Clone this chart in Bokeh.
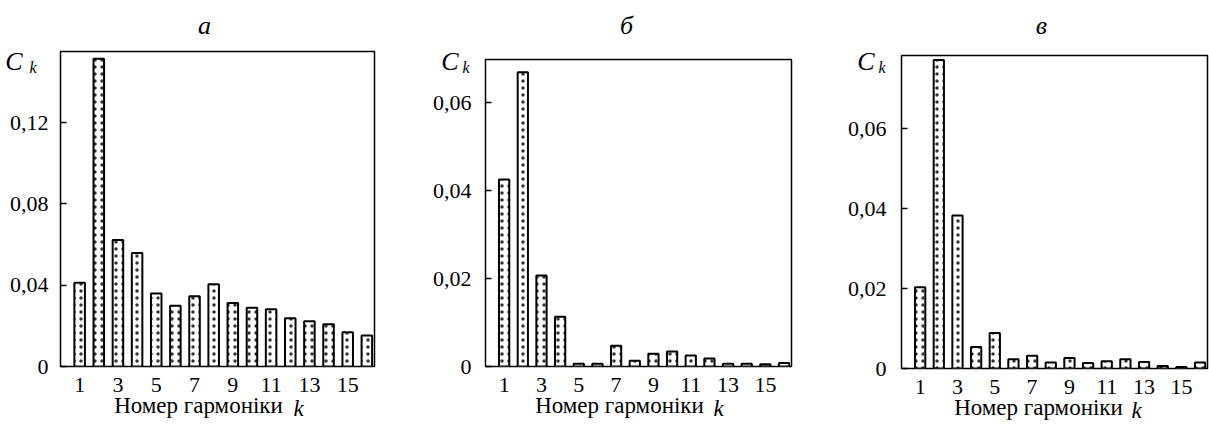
from bokeh.plotting import figure
from bokeh.layouts import row
from bokeh.models import FixedTicker, CustomJSTickFormatter, Range1d, LinearAxis
from bokeh.embed import file_html
from bokeh.resources import INLINE

harmonics = list(range(1, 17))
x_ticks = [1, 3, 5, 7, 9, 11, 13, 15]

ck_a = [0.0412, 0.1514, 0.0623, 0.0559, 0.0359, 0.0299, 0.0346, 0.0405,
        0.0313, 0.0289, 0.0282, 0.0238, 0.0223, 0.0208, 0.0169, 0.0153]
ck_b = [0.0426, 0.0670, 0.0207, 0.0113, 0.0006, 0.0006, 0.0047, 0.0013,
        0.0029, 0.0034, 0.0025, 0.0018, 0.0006, 0.0006, 0.0005, 0.0008]
ck_c = [0.0203, 0.0771, 0.0382, 0.0054, 0.0089, 0.0023, 0.0032, 0.0015,
        0.0026, 0.0014, 0.0018, 0.0023, 0.0016, 0.0006, 0.0004, 0.0015]

y_ticks_a = [0, 0.04, 0.08, 0.12]
y_ticks_b = [0, 0.02, 0.04, 0.06]
y_ticks_c = [0, 0.02, 0.04, 0.06]

panel_titles = ["а", "б", "в"]
x_label = "Номер гармоніки"
x_label_var = "k"
y_label = "C"
y_label_sub = "k"

FONT = "Liberation Serif"

# layout geometry (pixels): borders, stacking order of the left-side texts,
# and text anchor positions relative to the frame
panels = [
    dict(vals=ck_a, yt=y_ticks_a, ymax=0.155, width=400, bl=60, br=26, bt=51, bb=60,
         title_x=144, title_so=12, order=("k", "lab", "C"), pad=0,
         sk=24, k_y=299, slab=-22, sC=-16, C_y=305.5, xl_x=138, xk_x=238),
    dict(vals=ck_b, yt=y_ticks_b, ymax=0.0699, width=400, bl=85, br=9, bt=59, bb=60,
         title_x=141, title_so=20, order=("k", "C", "lab"), pad=2,
         sk=16, k_y=299, slab=-33, sC=1, C_y=305.5, xl_x=134, xk_x=233),
    dict(vals=ck_c, yt=y_ticks_c, ymax=0.0782, width=409, bl=101, br=2, bt=55, bb=58,
         title_x=140, title_so=16, order=("k", "C", "lab"), pad=2,
         sk=16, k_y=301, slab=-32, sC=1, C_y=307.5, xl_x=137, xk_x=235),
]


def num_fmt(pad):
    prefix = "\\u00a0" * pad
    return CustomJSTickFormatter(
        code="var s = tick == 0 ? '0' : tick.toFixed(2).replace('.', ',');"
             "return '%s' + s;" % prefix)


def const_fmt(s):
    return CustomJSTickFormatter(code="return %r;" % s)


def plain_axis(ax, standoff, size, style="normal"):
    ax.axis_line_color = None
    ax.major_tick_line_color = None
    ax.minor_tick_line_color = None
    ax.major_tick_in = 0
    ax.major_tick_out = 0
    ax.minor_tick_in = 0
    ax.minor_tick_out = 0
    ax.major_label_standoff = standoff
    ax.major_label_text_font = FONT
    ax.major_label_text_font_size = size
    ax.major_label_text_font_style = style
    ax.major_label_text_color = "black"


def text_axis(p, side, rng, pos, text, size, style, standoff):
    if side in ("left", "right"):
        ax = LinearAxis(y_range_name=rng)
    else:
        ax = LinearAxis(x_range_name=rng)
    ax.ticker = FixedTicker(ticks=[pos])
    ax.bounds = (pos - 0.5, pos + 0.5)
    ax.formatter = const_fmt(text)
    plain_axis(ax, standoff, size, style)
    p.add_layout(ax, side)
    return ax


figs = []
for i, g in enumerate(panels):
    fw = g["width"] - g["bl"] - g["br"]
    fh = 426 - g["bt"] - g["bb"]
    p = figure(width=g["width"], height=426, output_backend="svg", toolbar_location=None,
               title=None, x_range=Range1d(0, 16.4), y_range=Range1d(0, g["ymax"]),
               min_border_left=g["bl"], min_border_right=g["br"],
               min_border_top=g["bt"], min_border_bottom=g["bb"])
    if "frame_align" in p.properties():
        p.frame_align = False
    p.extra_x_ranges = {"px": Range1d(0, fw)}
    p.extra_y_ranges = {"py": Range1d(0, fh)}

    p.vbar(x=harmonics, top=g["vals"], width=0.55, bottom=0,
           fill_color="white", line_color="black", line_width=2,
           hatch_pattern="dot", hatch_scale=7, hatch_color="#333333", hatch_weight=1.4)
    p.xgrid.visible = False
    p.ygrid.visible = False
    p.outline_line_color = "black"
    p.outline_line_width = 1.5
    p.background_fill_color = "white"
    p.border_fill_color = "white"

    # main x axis: tick labels only
    p.xaxis.ticker = FixedTicker(ticks=x_ticks)
    plain_axis(p.xaxis[0], 11, "22px")

    # main y axis: tick marks only (labels drawn by another axis)
    p.yaxis.ticker = FixedTicker(ticks=g["yt"])
    p.yaxis.formatter = CustomJSTickFormatter(code="return '';")
    plain_axis(p.yaxis[0], 0, "22px")
    p.yaxis.major_tick_in = 6
    p.yaxis.major_tick_line_width = 1.5
    p.yaxis.major_tick_line_color = "black"

    # left stack of texts: subscript k, C and the numeric tick labels
    for item in g["order"]:
        if item == "k":
            text_axis(p, "left", "py", g["k_y"], y_label_sub, "16px", "italic", g["sk"])
        elif item == "C":
            text_axis(p, "left", "py", g["C_y"], y_label, "26px", "italic", g["sC"])
        else:
            lab = LinearAxis()
            lab.ticker = FixedTicker(ticks=g["yt"])
            lab.formatter = num_fmt(g["pad"])
            plain_axis(lab, g["slab"], "22px")
            p.add_layout(lab, "left")

    # panel letter above
    text_axis(p, "above", "px", g["title_x"], panel_titles[i], "26px", "italic", g["title_so"])

    # x axis caption below: "Номер гармоніки" and italic k on the same line
    text_axis(p, "below", "px", g["xl_x"], x_label, "23px", "normal", -2)
    text_axis(p, "below", "px", g["xk_x"], x_label_var, "23px", "italic", -25)

    figs.append(p)

layout = row(*figs, spacing=0)
open("out.html", "w").write(file_html(layout, INLINE))
